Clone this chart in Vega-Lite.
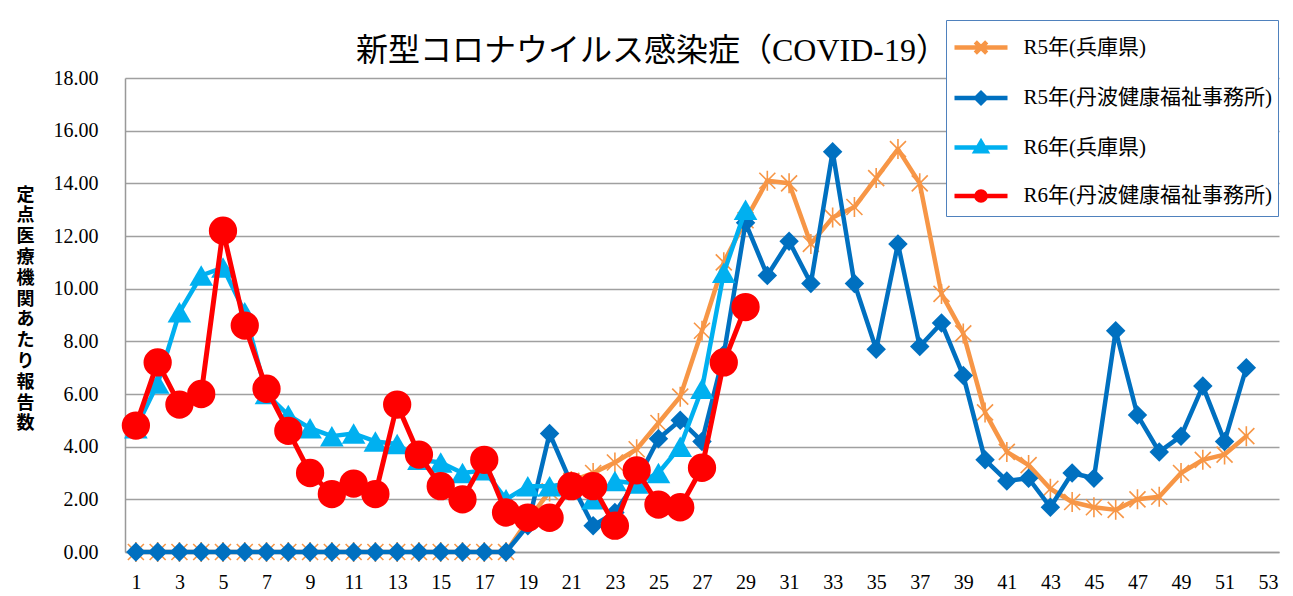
{
  "$schema": "https://vega.github.io/schema/vega-lite/v6.json",
  "width": 1154,
  "height": 474,
  "autosize": {"type": "none"},
  "padding": {"left": 125, "top": 78, "right": 14, "bottom": 44},
  "background": "white",
  "config": {"view": {"stroke": null}},
  "title": {
    "text": "新型コロナウイルス感染症（COVID-19）",
    "font": "Liberation Serif, Noto Sans CJK JP",
    "fontSize": 32,
    "fontWeight": "normal",
    "color": "black",
    "anchor": "middle",
    "frame": "group",
    "dx": -50,
    "offset": -73,
    "baseline": "alphabetic"
  },
  "data": {
    "values": [
      {"s": "R5年(兵庫県)", "w": 1, "v": 0}, {"s": "R5年(兵庫県)", "w": 2, "v": 0}, {"s": "R5年(兵庫県)", "w": 3, "v": 0}, {"s": "R5年(兵庫県)", "w": 4, "v": 0}, {"s": "R5年(兵庫県)", "w": 5, "v": 0}, {"s": "R5年(兵庫県)", "w": 6, "v": 0}, {"s": "R5年(兵庫県)", "w": 7, "v": 0}, {"s": "R5年(兵庫県)", "w": 8, "v": 0}, {"s": "R5年(兵庫県)", "w": 9, "v": 0}, {"s": "R5年(兵庫県)", "w": 10, "v": 0},
      {"s": "R5年(兵庫県)", "w": 11, "v": 0}, {"s": "R5年(兵庫県)", "w": 12, "v": 0}, {"s": "R5年(兵庫県)", "w": 13, "v": 0}, {"s": "R5年(兵庫県)", "w": 14, "v": 0}, {"s": "R5年(兵庫県)", "w": 15, "v": 0}, {"s": "R5年(兵庫県)", "w": 16, "v": 0}, {"s": "R5年(兵庫県)", "w": 17, "v": 0}, {"s": "R5年(兵庫県)", "w": 18, "v": 0}, {"s": "R5年(兵庫県)", "w": 19, "v": 1.2}, {"s": "R5年(兵庫県)", "w": 20, "v": 2.3},
      {"s": "R5年(兵庫県)", "w": 21, "v": 2.7}, {"s": "R5年(兵庫県)", "w": 22, "v": 3.0}, {"s": "R5年(兵庫県)", "w": 23, "v": 3.4}, {"s": "R5年(兵庫県)", "w": 24, "v": 3.9}, {"s": "R5年(兵庫県)", "w": 25, "v": 4.9}, {"s": "R5年(兵庫県)", "w": 26, "v": 5.9}, {"s": "R5年(兵庫県)", "w": 27, "v": 8.4}, {"s": "R5年(兵庫県)", "w": 28, "v": 11.0}, {"s": "R5年(兵庫県)", "w": 29, "v": 12.6}, {"s": "R5年(兵庫県)", "w": 30, "v": 14.1},
      {"s": "R5年(兵庫県)", "w": 31, "v": 14.0}, {"s": "R5年(兵庫県)", "w": 32, "v": 11.7}, {"s": "R5年(兵庫県)", "w": 33, "v": 12.7}, {"s": "R5年(兵庫県)", "w": 34, "v": 13.1}, {"s": "R5年(兵庫県)", "w": 35, "v": 14.2}, {"s": "R5年(兵庫県)", "w": 36, "v": 15.3}, {"s": "R5年(兵庫県)", "w": 37, "v": 14.0}, {"s": "R5年(兵庫県)", "w": 38, "v": 9.8}, {"s": "R5年(兵庫県)", "w": 39, "v": 8.3}, {"s": "R5年(兵庫県)", "w": 40, "v": 5.3},
      {"s": "R5年(兵庫県)", "w": 41, "v": 3.8}, {"s": "R5年(兵庫県)", "w": 42, "v": 3.3}, {"s": "R5年(兵庫県)", "w": 43, "v": 2.4}, {"s": "R5年(兵庫県)", "w": 44, "v": 1.9}, {"s": "R5年(兵庫県)", "w": 45, "v": 1.7}, {"s": "R5年(兵庫県)", "w": 46, "v": 1.6}, {"s": "R5年(兵庫県)", "w": 47, "v": 2.0}, {"s": "R5年(兵庫県)", "w": 48, "v": 2.1}, {"s": "R5年(兵庫県)", "w": 49, "v": 3.0}, {"s": "R5年(兵庫県)", "w": 50, "v": 3.5},
      {"s": "R5年(兵庫県)", "w": 51, "v": 3.7}, {"s": "R5年(兵庫県)", "w": 52, "v": 4.4},

      {"s": "R5年(丹波健康福祉事務所)", "w": 1, "v": 0}, {"s": "R5年(丹波健康福祉事務所)", "w": 2, "v": 0}, {"s": "R5年(丹波健康福祉事務所)", "w": 3, "v": 0}, {"s": "R5年(丹波健康福祉事務所)", "w": 4, "v": 0}, {"s": "R5年(丹波健康福祉事務所)", "w": 5, "v": 0}, {"s": "R5年(丹波健康福祉事務所)", "w": 6, "v": 0}, {"s": "R5年(丹波健康福祉事務所)", "w": 7, "v": 0}, {"s": "R5年(丹波健康福祉事務所)", "w": 8, "v": 0}, {"s": "R5年(丹波健康福祉事務所)", "w": 9, "v": 0}, {"s": "R5年(丹波健康福祉事務所)", "w": 10, "v": 0},
      {"s": "R5年(丹波健康福祉事務所)", "w": 11, "v": 0}, {"s": "R5年(丹波健康福祉事務所)", "w": 12, "v": 0}, {"s": "R5年(丹波健康福祉事務所)", "w": 13, "v": 0}, {"s": "R5年(丹波健康福祉事務所)", "w": 14, "v": 0}, {"s": "R5年(丹波健康福祉事務所)", "w": 15, "v": 0}, {"s": "R5年(丹波健康福祉事務所)", "w": 16, "v": 0}, {"s": "R5年(丹波健康福祉事務所)", "w": 17, "v": 0}, {"s": "R5年(丹波健康福祉事務所)", "w": 18, "v": 0}, {"s": "R5年(丹波健康福祉事務所)", "w": 19, "v": 1.0}, {"s": "R5年(丹波健康福祉事務所)", "w": 20, "v": 4.5},
      {"s": "R5年(丹波健康福祉事務所)", "w": 21, "v": 2.6}, {"s": "R5年(丹波健康福祉事務所)", "w": 22, "v": 1.0}, {"s": "R5年(丹波健康福祉事務所)", "w": 23, "v": 1.5}, {"s": "R5年(丹波健康福祉事務所)", "w": 24, "v": 2.7}, {"s": "R5年(丹波健康福祉事務所)", "w": 25, "v": 4.3}, {"s": "R5年(丹波健康福祉事務所)", "w": 26, "v": 5.0}, {"s": "R5年(丹波健康福祉事務所)", "w": 27, "v": 4.2}, {"s": "R5年(丹波健康福祉事務所)", "w": 28, "v": 7.5}, {"s": "R5年(丹波健康福祉事務所)", "w": 29, "v": 12.5}, {"s": "R5年(丹波健康福祉事務所)", "w": 30, "v": 10.5},
      {"s": "R5年(丹波健康福祉事務所)", "w": 31, "v": 11.8}, {"s": "R5年(丹波健康福祉事務所)", "w": 32, "v": 10.2}, {"s": "R5年(丹波健康福祉事務所)", "w": 33, "v": 15.2}, {"s": "R5年(丹波健康福祉事務所)", "w": 34, "v": 10.2}, {"s": "R5年(丹波健康福祉事務所)", "w": 35, "v": 7.7}, {"s": "R5年(丹波健康福祉事務所)", "w": 36, "v": 11.7}, {"s": "R5年(丹波健康福祉事務所)", "w": 37, "v": 7.8}, {"s": "R5年(丹波健康福祉事務所)", "w": 38, "v": 8.7}, {"s": "R5年(丹波健康福祉事務所)", "w": 39, "v": 6.7}, {"s": "R5年(丹波健康福祉事務所)", "w": 40, "v": 3.5},
      {"s": "R5年(丹波健康福祉事務所)", "w": 41, "v": 2.7}, {"s": "R5年(丹波健康福祉事務所)", "w": 42, "v": 2.8}, {"s": "R5年(丹波健康福祉事務所)", "w": 43, "v": 1.7}, {"s": "R5年(丹波健康福祉事務所)", "w": 44, "v": 3.0}, {"s": "R5年(丹波健康福祉事務所)", "w": 45, "v": 2.8}, {"s": "R5年(丹波健康福祉事務所)", "w": 46, "v": 8.4}, {"s": "R5年(丹波健康福祉事務所)", "w": 47, "v": 5.2}, {"s": "R5年(丹波健康福祉事務所)", "w": 48, "v": 3.8}, {"s": "R5年(丹波健康福祉事務所)", "w": 49, "v": 4.4}, {"s": "R5年(丹波健康福祉事務所)", "w": 50, "v": 6.3},
      {"s": "R5年(丹波健康福祉事務所)", "w": 51, "v": 4.2}, {"s": "R5年(丹波健康福祉事務所)", "w": 52, "v": 7.0},

      {"s": "R6年(兵庫県)", "w": 1, "v": 4.7}, {"s": "R6年(兵庫県)", "w": 2, "v": 6.4}, {"s": "R6年(兵庫県)", "w": 3, "v": 9.1}, {"s": "R6年(兵庫県)", "w": 4, "v": 10.5}, {"s": "R6年(兵庫県)", "w": 5, "v": 10.8}, {"s": "R6年(兵庫県)", "w": 6, "v": 9.1}, {"s": "R6年(兵庫県)", "w": 7, "v": 6.0}, {"s": "R6年(兵庫県)", "w": 8, "v": 5.2}, {"s": "R6年(兵庫県)", "w": 9, "v": 4.7}, {"s": "R6年(兵庫県)", "w": 10, "v": 4.4},
      {"s": "R6年(兵庫県)", "w": 11, "v": 4.5}, {"s": "R6年(兵庫県)", "w": 12, "v": 4.2}, {"s": "R6年(兵庫県)", "w": 13, "v": 4.1}, {"s": "R6年(兵庫県)", "w": 14, "v": 3.5}, {"s": "R6年(兵庫県)", "w": 15, "v": 3.4}, {"s": "R6年(兵庫県)", "w": 16, "v": 3.0}, {"s": "R6年(兵庫県)", "w": 17, "v": 3.1}, {"s": "R6年(兵庫県)", "w": 18, "v": 2.0}, {"s": "R6年(兵庫県)", "w": 19, "v": 2.5}, {"s": "R6年(兵庫県)", "w": 20, "v": 2.5},
      {"s": "R6年(兵庫県)", "w": 21, "v": 2.6}, {"s": "R6年(兵庫県)", "w": 22, "v": 2.0}, {"s": "R6年(兵庫県)", "w": 23, "v": 2.7}, {"s": "R6年(兵庫県)", "w": 24, "v": 2.6}, {"s": "R6年(兵庫県)", "w": 25, "v": 3.0}, {"s": "R6年(兵庫県)", "w": 26, "v": 4.0}, {"s": "R6年(兵庫県)", "w": 27, "v": 6.2}, {"s": "R6年(兵庫県)", "w": 28, "v": 10.6}, {"s": "R6年(兵庫県)", "w": 29, "v": 13.0},

      {"s": "R6年(丹波健康福祉事務所)", "w": 1, "v": 4.8}, {"s": "R6年(丹波健康福祉事務所)", "w": 2, "v": 7.2}, {"s": "R6年(丹波健康福祉事務所)", "w": 3, "v": 5.6}, {"s": "R6年(丹波健康福祉事務所)", "w": 4, "v": 6.0}, {"s": "R6年(丹波健康福祉事務所)", "w": 5, "v": 12.2}, {"s": "R6年(丹波健康福祉事務所)", "w": 6, "v": 8.6}, {"s": "R6年(丹波健康福祉事務所)", "w": 7, "v": 6.2}, {"s": "R6年(丹波健康福祉事務所)", "w": 8, "v": 4.6}, {"s": "R6年(丹波健康福祉事務所)", "w": 9, "v": 3.0}, {"s": "R6年(丹波健康福祉事務所)", "w": 10, "v": 2.2},
      {"s": "R6年(丹波健康福祉事務所)", "w": 11, "v": 2.6}, {"s": "R6年(丹波健康福祉事務所)", "w": 12, "v": 2.2}, {"s": "R6年(丹波健康福祉事務所)", "w": 13, "v": 5.6}, {"s": "R6年(丹波健康福祉事務所)", "w": 14, "v": 3.7}, {"s": "R6年(丹波健康福祉事務所)", "w": 15, "v": 2.5}, {"s": "R6年(丹波健康福祉事務所)", "w": 16, "v": 2.0}, {"s": "R6年(丹波健康福祉事務所)", "w": 17, "v": 3.5}, {"s": "R6年(丹波健康福祉事務所)", "w": 18, "v": 1.5}, {"s": "R6年(丹波健康福祉事務所)", "w": 19, "v": 1.3}, {"s": "R6年(丹波健康福祉事務所)", "w": 20, "v": 1.3},
      {"s": "R6年(丹波健康福祉事務所)", "w": 21, "v": 2.5}, {"s": "R6年(丹波健康福祉事務所)", "w": 22, "v": 2.5}, {"s": "R6年(丹波健康福祉事務所)", "w": 23, "v": 1.0}, {"s": "R6年(丹波健康福祉事務所)", "w": 24, "v": 3.1}, {"s": "R6年(丹波健康福祉事務所)", "w": 25, "v": 1.8}, {"s": "R6年(丹波健康福祉事務所)", "w": 26, "v": 1.7}, {"s": "R6年(丹波健康福祉事務所)", "w": 27, "v": 3.2}, {"s": "R6年(丹波健康福祉事務所)", "w": 28, "v": 7.2}, {"s": "R6年(丹波健康福祉事務所)", "w": 29, "v": 9.3}
    ]
  },
  "encoding": {
    "x": {
      "field": "w",
      "type": "quantitative",
      "scale": {"domain": [0.5, 53.5], "nice": false, "zero": false},
      "axis": {
        "values": [1, 3, 5, 7, 9, 11, 13, 15, 17, 19, 21, 23, 25, 27, 29, 31, 33, 35, 37, 39, 41, 43, 45, 47, 49, 51, 53],
        "format": "d",
        "title": null,
        "grid": false,
        "ticks": false,
        "labelFont": "Liberation Serif",
        "labelFontSize": 20,
        "labelColor": "black",
        "labelPadding": 20,
        "labelFlush": false,
        "labelOverlap": false,
        "domainColor": "#999999",
        "domainWidth": 1.5
      }
    },
    "y": {
      "field": "v",
      "type": "quantitative",
      "scale": {"domain": [0, 18], "nice": false},
      "axis": {
        "values": [0, 2, 4, 6, 8, 10, 12, 14, 16, 18],
        "format": ".2f",
        "title": ["定", "点", "医", "療", "機", "関", "あ", "た", "り", "報", "告", "数"],
        "titleAngle": 0,
        "titleX": -100,
        "titleY": 108,
        "titleAlign": "center",
        "titleBaseline": "top",
        "titleFont": "Liberation Serif, Noto Sans CJK JP",
        "titleFontSize": 18,
        "titleFontWeight": "bold",
        "titleLineHeight": 20.8,
        "titleColor": "black",
        "grid": true,
        "gridColor": "#a0a0a0",
        "gridWidth": 1.5,
        "ticks": false,
        "labelFont": "Liberation Serif",
        "labelFontSize": 20,
        "labelColor": "black",
        "labelPadding": 27,
        "domainColor": "#999999",
        "domainWidth": 1.5
      }
    },
    "color": {
      "field": "s",
      "type": "nominal",
      "scale": {
        "domain": ["R5年(兵庫県)", "R5年(丹波健康福祉事務所)", "R6年(兵庫県)", "R6年(丹波健康福祉事務所)"],
        "range": ["#F79646", "#0070C0", "#00B0F0", "#FF0000"]
      },
      "legend": {
        "title": null,
        "orient": "none",
        "legendX": 821,
        "legendY": -58,
        "direction": "vertical",
        "padding": 6,
        "strokeColor": "#4F81BD",
        "fillColor": "white",
        "symbolSize": 1444,
        "symbolOffset": 7.5,
        "symbolStrokeWidth": 4.5,
        "symbolType": "M-1.395,0L1.395,0",
        "labelOffset": 21,
        "rowPadding": 13.5,
        "labelFont": "Liberation Serif, Noto Sans CJK JP",
        "labelFontSize": 21,
        "labelColor": "black",
        "labelLimit": 400,
        "encode": {
          "symbols": {
            "update": {
              "shape": {"signal": "datum.value === 'R5年(兵庫県)' ? 'M-1.395,0L1.395,0M-0.3,-0.3L0.3,0.3M-0.3,0.3L0.3,-0.3' : datum.value === 'R5年(丹波健康福祉事務所)' ? 'M-1.395,0L1.395,0M-0.26,0L0,-0.26L0.26,0L0,0.26Z' : datum.value === 'R6年(兵庫県)' ? 'M-1.395,0L1.395,0M0,-0.28L0.28,0.2L-0.28,0.2Z' : 'M-1.395,0L1.395,0M-0.24,0A0.24,0.24,0,1,1,0.24,0A0.24,0.24,0,1,1,-0.24,0Z'"},
              "fill": {"signal": "scale('color', datum.value)"},
              "stroke": {"signal": "scale('color', datum.value)"},
              "opacity": {"value": 1}
            }
          }
        }
      }
    }
  },
  "layer": [
    {"transform": [{"filter": "datum.s === 'R5年(兵庫県)'"}], "mark": {"type": "line", "strokeWidth": 4.5, "strokeJoin": "round", "strokeCap": "round"}},
    {"transform": [{"filter": "datum.s === 'R5年(兵庫県)'"}], "mark": {"type": "point", "shape": "M-1,-1L1,1M-1,1L1,-1M0,-1.25L0,1.25", "filled": false, "size": 256, "strokeWidth": 1.6, "opacity": 1}},
    {"transform": [{"filter": "datum.s === 'R5年(丹波健康福祉事務所)'"}], "mark": {"type": "line", "strokeWidth": 4.5, "strokeJoin": "round", "strokeCap": "round"}},
    {"transform": [{"filter": "datum.s === 'R5年(丹波健康福祉事務所)'"}], "mark": {"type": "point", "shape": "diamond", "filled": true, "size": 380, "opacity": 1}},
    {"transform": [{"filter": "datum.s === 'R6年(兵庫県)'"}], "mark": {"type": "line", "strokeWidth": 4.5, "strokeJoin": "round", "strokeCap": "round"}},
    {"transform": [{"filter": "datum.s === 'R6年(兵庫県)'"}], "mark": {"type": "point", "shape": "triangle-up", "filled": true, "size": 560, "opacity": 1}},
    {"transform": [{"filter": "datum.s === 'R6年(丹波健康福祉事務所)'"}], "mark": {"type": "line", "strokeWidth": 5, "strokeJoin": "round", "strokeCap": "round"}},
    {"transform": [{"filter": "datum.s === 'R6年(丹波健康福祉事務所)'"}], "mark": {"type": "point", "shape": "circle", "filled": true, "size": 800, "opacity": 1}}
  ]
}
